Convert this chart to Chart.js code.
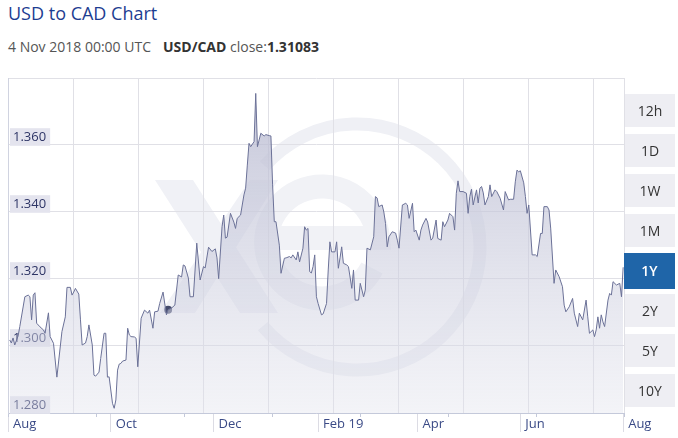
<!DOCTYPE html>
<html>
<head>
<meta charset="utf-8">
<script src="https://cdn.jsdelivr.net/npm/chart.js@4.4.0/dist/chart.umd.min.js"></script>
<style>
  body { margin: 0; width: 678px; height: 438px; overflow: hidden; background: #fff; position: relative; font-family: 'Open Sans', sans-serif; }
  h1 { position: absolute; left: 8px; top: 0; margin: 0; font-size: 18px; font-weight: 400; color: #1d3d91; line-height: 26px; }
  .sub { position: absolute; left: 8px; top: 37px; font-size: 14px; color: #555; line-height: 20px; }
  .sub b { color: #333; font-weight: 700; }
  .sub .gap { margin-left: 12px; }
  #wm, #wrap { position: absolute; left: 0; top: 0; }
  .ranges { position: absolute; left: 625px; top: 94px; width: 50px; }
  .ranges div { height: 33px; margin-bottom: 7px; background: #eeeef3; color: #333; font-size: 14px; line-height: 33px; text-align: center; }
  .ranges div.on { background: #1f65a8; color: #fff; font-weight: 600; height: 36px; line-height: 36px; margin-top: -1px; margin-bottom: 5px; margin-left: -1px; width: 51px; }
</style>
</head>
<body>
<h1>USD to CAD Chart</h1>
<div class="sub">4 Nov 2018 00:00 UTC<span class="gap"></span><b>USD/CAD</b> close:<b>1.31083</b></div>

<!-- faint xe watermark behind the plot -->
<svg id="wm" width="678" height="438">
  <g fill="#f0f1f6">
    <polygon points="155,180 193,180 278,313 240,313"/>
    <polygon points="250,180 278,180 195,313 160,313"/>
  </g>
  <path d="M264.7 165.7 A123 123 0 1 1 262.8 326.1" fill="none" stroke="#eff0f5" stroke-width="13"/>
  <path d="M372 268 A56 56 0 1 1 378 238 L268 238" fill="none" stroke="#f1f2f6" stroke-width="24"/>
</svg>

<div id="wrap"><canvas id="chart" width="678" height="438"></canvas></div>

<div class="ranges">
  <div>12h</div><div>1D</div><div>1W</div><div>1M</div><div class="on">1Y</div><div>2Y</div><div>5Y</div><div>10Y</div>
</div>

<script>
// days counted from 1 Aug 2018
const monthDays = [0, 61, 122, 184, 243, 304, 365];
const monthLabels = ['Aug', 'Oct', 'Dec', 'Feb 19', 'Apr', 'Jun', 'Aug'];
const rateTicks = [1.28, 1.30, 1.32, 1.34, 1.36];

const days = [
  1, 2, 3, 4, 6, 7, 10, 12, 13, 14, 15, 16, 17, 19, 21, 22, 24, 25, 27, 29,
  32, 34, 35, 37, 38, 39, 40, 42, 43, 44, 46, 47, 48, 50, 51, 52, 54, 55, 57, 58,
  59, 60, 62, 63, 64, 65, 66, 67, 68, 70, 71, 72, 73, 75, 76, 77, 79, 81, 83, 84,
  86, 87, 89, 90, 92, 94, 95, 97, 99, 101, 103, 104, 105, 107, 108, 110, 112, 114, 116, 117,
  119, 121, 123, 124, 125, 127, 128, 129, 130, 132, 134, 135, 136, 138, 140, 141, 142, 143, 144, 146,
  147, 148, 150, 152, 153, 155, 156, 157, 158, 159, 161, 162, 164, 165, 167, 168, 169, 171, 172, 173,
  175, 176, 177, 178, 179, 180, 181, 182, 183, 184, 186, 187, 189, 190, 191, 192, 194, 195, 196, 197,
  198, 199, 201, 202, 204, 205, 206, 208, 209, 211, 212, 213, 215, 217, 218, 219, 220, 222, 223, 224,
  225, 226, 228, 230, 231, 232, 234, 236, 237, 238, 240, 241, 242, 244, 245, 246, 248, 249, 251, 252,
  254, 255, 257, 258, 259, 261, 262, 264, 265, 266, 267, 268, 270, 272, 273, 274, 275, 276, 278, 279,
  280, 281, 282, 283, 285, 286, 287, 289, 290, 292, 294, 295, 297, 298, 300, 301, 302, 303, 304, 306,
  307, 308, 309, 311, 313, 314, 316, 317, 318, 320, 321, 322, 324, 325, 327, 329, 330, 331, 333, 335,
  336, 338, 339, 341, 343, 344, 345, 347, 348, 349, 350, 351, 352, 353, 354, 356, 357, 358, 359, 361,
  363, 364, 365
];

const closes = [
  1.3018, 1.3009, 1.3024, 1.3003, 1.3030, 1.3058, 1.3147, 1.3152, 1.3147, 1.3078, 1.3152, 1.3159, 1.3068, 1.3057, 1.3048, 1.3038, 1.3099, 1.3028, 1.3008, 1.2907,
  1.3043, 1.3087, 1.3175, 1.3175, 1.3152, 1.3161, 1.3172, 1.3155, 1.3078, 1.3003, 1.3009, 1.3028, 1.3063, 1.3003, 1.2913, 1.2910, 1.2922, 1.2963, 1.3038, 1.3038,
  1.2907, 1.2908, 1.2829, 1.2814, 1.2839, 1.2928, 1.2946, 1.2948, 1.2955, 1.2958, 1.3053, 1.3033, 1.3028, 1.3027, 1.3023, 1.2938, 1.3083, 1.3107, 1.3098, 1.3107,
  1.3053, 1.3102, 1.3104, 1.3127, 1.3161, 1.3093, 1.31083, 1.3113, 1.3122, 1.3212, 1.3206, 1.3242, 1.3239, 1.3203, 1.3147, 1.3147, 1.3307, 1.3197, 1.3237, 1.3233,
  1.3295, 1.3282, 1.3290, 1.3263, 1.3201, 1.3356, 1.3391, 1.3322, 1.3325, 1.3396, 1.3370, 1.3351, 1.3381, 1.3391, 1.3451, 1.3471, 1.3540, 1.3605, 1.3595, 1.3610,
  1.3754, 1.3595, 1.3635, 1.3627, 1.3631, 1.3628, 1.3627, 1.3481, 1.3371, 1.3371, 1.3301, 1.3217, 1.3262, 1.3263, 1.3267, 1.3263, 1.3272, 1.3257, 1.3281, 1.3251,
  1.3292, 1.3356, 1.3346, 1.3351, 1.3222, 1.3218, 1.3237, 1.3272, 1.3147, 1.3127, 1.3093, 1.3096, 1.3127, 1.3227, 1.3311, 1.3281, 1.3281, 1.3311, 1.3232, 1.3263,
  1.3296, 1.3247, 1.3242, 1.3237, 1.3172, 1.3227, 1.3137, 1.3137, 1.3187, 1.3147, 1.3167, 1.3292, 1.3287, 1.3326, 1.3446, 1.3442, 1.3416, 1.3421, 1.3400, 1.3366,
  1.3296, 1.3326, 1.3341, 1.3337, 1.3316, 1.3292, 1.3421, 1.3426, 1.3421, 1.3381, 1.3426, 1.3341, 1.3346, 1.3316, 1.3346, 1.3361, 1.3381, 1.3370, 1.3316, 1.3322,
  1.3376, 1.3321, 1.3316, 1.3371, 1.3356, 1.3376, 1.3396, 1.3386, 1.3346, 1.3456, 1.3493, 1.3461, 1.3461, 1.3456, 1.3396, 1.3446, 1.3468, 1.3421, 1.3466, 1.3427,
  1.3471, 1.3476, 1.3457, 1.3421, 1.3446, 1.3481, 1.3446, 1.3466, 1.3461, 1.3441, 1.3406, 1.3461, 1.3436, 1.3438, 1.3438, 1.3490, 1.3525, 1.3520, 1.3523, 1.3487,
  1.3446, 1.3396, 1.3421, 1.3272, 1.3272, 1.3267, 1.3336, 1.3336, 1.3416, 1.3416, 1.3406, 1.3352, 1.3187, 1.3227, 1.3207, 1.3177, 1.3122, 1.3102, 1.3117, 1.3142,
  1.3098, 1.3058, 1.3098, 1.3078, 1.3137, 1.3087, 1.3038, 1.3048, 1.3028, 1.3048, 1.3087, 1.3053, 1.3093, 1.3072, 1.3058, 1.3137, 1.3157, 1.3152, 1.3192, 1.3182,
  1.3187, 1.3147, 1.3235
];

// hovered point shown in the header
const hoverDay = 95;
const hoverClose = 1.31083;

const LINE = '#6b7197';
const GRID = '#e0e0e6';

new Chart(document.getElementById('chart'), {
  type: 'line',
  data: {
    datasets: [{
      data: days.map((d, i) => ({ x: d, y: closes[i] })),
      borderColor: LINE,
      borderWidth: 1,
      pointRadius: 0,
      tension: 0,
      fill: 'start',
      backgroundColor: function (ctx) {
        const area = ctx.chart.chartArea;
        if (!area) return 'rgba(200,201,219,0.8)';
        const g = ctx.chart.ctx.createLinearGradient(0, area.top, 0, area.bottom);
        g.addColorStop(0, 'rgba(180,182,206,0.82)');
        g.addColorStop(1, 'rgba(225,226,236,0.4)');
        return g;
      }
    }, {
      data: [{ x: hoverDay, y: hoverClose }],
      showLine: false,
      pointRadius: 4,
      pointBackgroundColor: '#444a6b',
      pointBorderWidth: 0
    }]
  },
  options: {
    responsive: false,
    animation: false,
    events: [],
    layout: { padding: { left: 8, top: 78, right: 54, bottom: 0 } },
    plugins: { legend: { display: false }, tooltip: { enabled: false } },
    scales: {
      x: {
        type: 'linear',
        position: 'bottom',
        weight: 2,
        min: 0,
        max: 365.5,
        afterBuildTicks: s => { s.ticks = monthDays.map(v => ({ value: v })); },
        afterFit: s => { s.height = 25; },
        ticks: {
          autoSkip: false,
          maxRotation: 0,
          align: 'start',
          labelOffset: 5,
          padding: -16,
          color: '#3a4a86',
          font: { family: "'Open Sans', sans-serif", size: 13 },
          callback: v => monthLabels[monthDays.indexOf(v)]
        },
        grid: { drawOnChartArea: false, tickLength: 19, tickColor: '#dcdce4' },
        border: { color: '#c4c9da' }
      },
      // regular vertical grid, independent of the month labels
      xGrid: {
        type: 'linear',
        position: 'top',
        min: 0,
        max: 616,
        afterBuildTicks: s => {
          const t = [];
          for (let v = 0; v < 616; v += 65) t.push({ value: v });
          t.push({ value: 616 });
          s.ticks = t;
        },
        afterFit: s => { s.height = 0; },
        ticks: { display: false },
        grid: { color: GRID, drawTicks: false },
        border: { color: GRID }
      },
      // short minor marks under the axis
      xMinor: {
        type: 'linear',
        position: 'bottom',
        weight: 1,
        min: 0,
        max: 616,
        afterBuildTicks: s => {
          const t = [];
          for (let v = 0; v <= 616; v += 88) t.push({ value: v });
          s.ticks = t;
        },
        afterFit: s => { s.height = 0; },
        ticks: { display: false },
        grid: { drawOnChartArea: false, tickLength: 4, tickColor: '#c4c9da' },
        border: { display: false }
      },
      y: {
        type: 'linear',
        position: 'left',
        min: 1.28,
        max: 1.38,
        afterBuildTicks: s => { s.ticks = rateTicks.map(v => ({ value: v })); },
        afterFit: s => { s.width = 0; },
        ticks: {
          mirror: true,
          padding: 5,
          labelOffset: -8,
          showLabelBackdrop: true,
          backdropColor: '#e4e4ee',
          backdropPadding: { top: 1, bottom: 1, left: 3, right: 4 },
          color: '#2e3566',
          font: { family: "'Open Sans', sans-serif", size: 13 },
          callback: v => v.toFixed(3)
        },
        grid: { color: GRID, drawTicks: false },
        border: { color: '#d0d3e0' }
      }
    }
  }
});
</script>
</body>
</html>
